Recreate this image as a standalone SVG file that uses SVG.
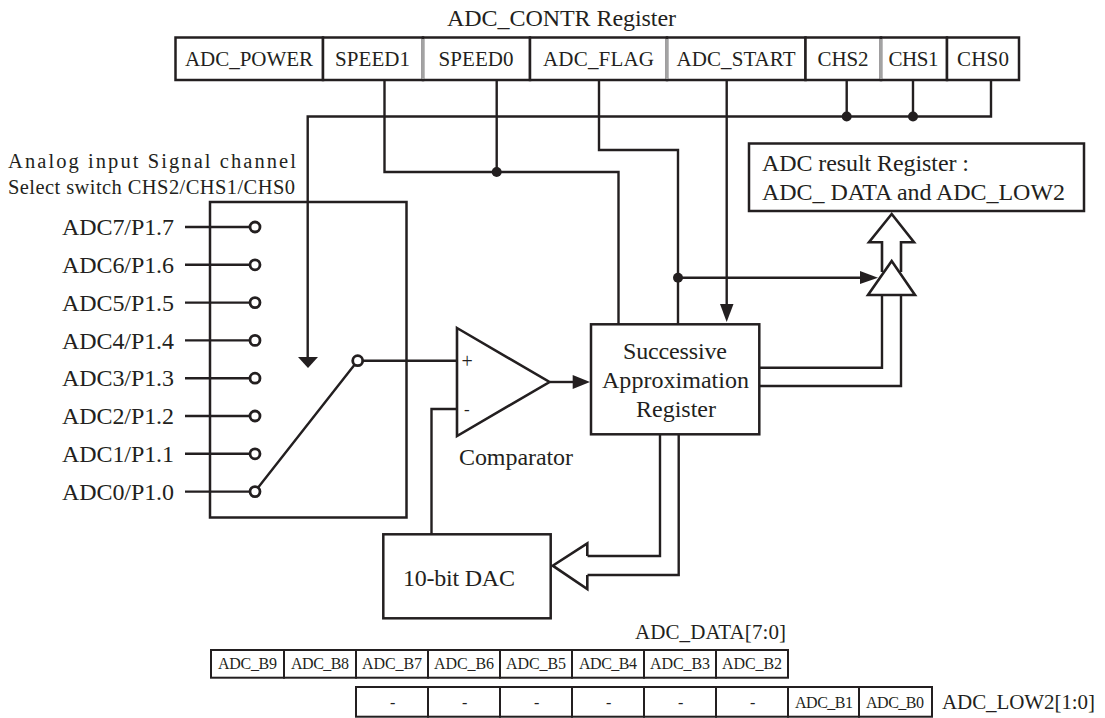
<svg xmlns="http://www.w3.org/2000/svg" width="1105" height="718" viewBox="0 0 1105 718">
<defs>
<style>
text{font-family:"Liberation Serif","Times New Roman",serif;fill:#231f20}
.t21{font-size:21px}.t24{font-size:24px}.t16{font-size:16px}.t20{font-size:20.500px}
.box{fill:#fff;stroke:#231f20;stroke-width:2.5}
.open{fill:none;stroke:#231f20;stroke-width:2.5}
.cell{fill:#fff;stroke:#231f20;stroke-width:2}
.w{fill:none;stroke:#231f20;stroke-width:2.4;stroke-linejoin:miter}
.grey{stroke:#a3a3a3;stroke-width:2.5}
.dot{fill:#231f20}
.head{fill:#231f20}
.pin{fill:#fff;stroke:#231f20;stroke-width:2.8}
.tri{fill:#fff;stroke:#231f20;stroke-width:2.6;stroke-linejoin:miter}
</style>
</defs>
<rect width="1105" height="718" fill="#fff"/>
<text x="447" y="26" class="t24" textLength="229">ADC_CONTR Register</text>

<g id="register-contr">
<g id="cell-adc-power"><rect class="box" x="175.500" y="37.500" width="147.500" height="42.500"/><text class="t21" x="185" y="66" textLength="128">ADC_POWER</text></g>
<g id="cell-speed1"><rect class="box" x="323" y="37.500" width="100" height="42.500"/><text class="t21" x="335" y="66" textLength="75">SPEED1</text></g>
<g id="cell-speed0"><rect class="box" x="423" y="37.500" width="107" height="42.500"/><line class="grey" x1="423" y1="39" x2="423" y2="79"/><text class="t21" x="438.500" y="66" textLength="75">SPEED0</text></g>
<g id="cell-adc-flag"><rect class="box" x="530" y="37.500" width="137" height="42.500"/><text class="t21" x="543" y="66" textLength="111">ADC_FLAG</text></g>
<g id="cell-adc-start"><rect class="box" x="667" y="37.500" width="138.500" height="42.500"/><line class="grey" x1="667" y1="39" x2="667" y2="79"/><text class="t21" x="676.500" y="66" textLength="119">ADC_START</text></g>
<g id="cell-chs2"><rect class="box" x="805.500" y="37.500" width="75.500" height="42.500"/><text class="t21" x="817.500" y="66" textLength="51">CHS2</text></g>
<g id="cell-chs1"><rect class="box" x="881" y="37.500" width="66" height="42.500"/><line class="grey" x1="881" y1="39" x2="881" y2="79"/><text class="t21" x="888.500" y="66" textLength="50">CHS1</text></g>
<g id="cell-chs0"><rect class="box" x="947" y="37.500" width="72" height="42.500"/><text class="t21" x="957" y="66" textLength="52">CHS0</text></g>
</g>

<g id="node-result">
<rect class="box" x="749" y="143.500" width="335" height="67.500"/>
<text class="t24" x="762" y="171" textLength="207">ADC result Register :</text>
<text class="t24" x="762" y="200" textLength="303">ADC_ DATA and ADC_LOW2</text>
</g>

<text class="t20" x="8" y="168" textLength="288">Analog input Signal channel</text>
<text class="t20" x="8" y="194" textLength="287">Select switch CHS2/CHS1/CHS0</text>

<g id="node-switch">
<rect class="open" x="210" y="202" width="196.500" height="315.500"/>
</g>

<g id="inputs">
<text class="t24" x="62" y="235" textLength="112">ADC7/P1.7</text>
<text class="t24" x="62" y="273" textLength="112">ADC6/P1.6</text>
<text class="t24" x="62" y="311" textLength="112">ADC5/P1.5</text>
<text class="t24" x="62" y="349" textLength="112">ADC4/P1.4</text>
<text class="t24" x="62" y="386" textLength="112">ADC3/P1.3</text>
<text class="t24" x="62" y="424" textLength="112">ADC2/P1.2</text>
<text class="t24" x="62" y="462" textLength="112">ADC1/P1.1</text>
<text class="t24" x="62" y="500" textLength="112">ADC0/P1.0</text>
</g>

<g id="connectors">
<path class="w" d="M384.500 80V172H618.500V324"/>
<path class="w" d="M496.700 80V172"/>
<path class="w" d="M599 80V150H678V324"/>
<path class="w" d="M726.700 80V306"/>
<path class="w" d="M991 80V116.500H307.700V358"/>
<path class="w" d="M846.700 80V116.500M913 80V116.500"/>
<path class="w" d="M678 277.700H862"/>
<path class="w" d="M185 227H250M185 264.800H250M185 302.600H250M185 340.400H250M185 378.200H250M185 416H250M185 453.800H250M185 491.600H250"/>
<path class="w" d="M255 491.600L357.700 360.700H457"/>
<path class="w" d="M457 409H431.500V534"/>
<path class="w" d="M550 382H574"/>
<path class="w" d="M660 434V556H587.300M678.700 434V575H587.300"/>
<path class="w" d="M759 367.700H882V295M759 386H901V295"/>
<polygon class="head" points="720,304 733.500,304 726.700,322"/>
<polygon class="head" points="298,357 318,357 308,368"/>
<polygon class="head" points="572.700,375 590,382 572.700,389"/>
<polygon class="head" points="860,271 878,277.700 860,284"/>
<circle class="dot" cx="496.700" cy="172" r="5"/>
<circle class="dot" cx="846.700" cy="116.500" r="5"/>
<circle class="dot" cx="913" cy="116.500" r="5"/>
<circle class="dot" cx="678" cy="277.700" r="5"/>
<polyline class="tri" points="587.300,556 587.300,543.300 552.700,565.700 587.300,589 587.300,575"/>
<polyline class="tri" points="882,272 882,242.300 869,242.300 891.700,214 914,242.300 901,242.300 901,272"/>
<polygon class="tri" points="891.700,261 868,295 915,295"/>
<circle class="pin" cx="255" cy="227" r="5"/>
<circle class="pin" cx="255" cy="264.800" r="5"/>
<circle class="pin" cx="255" cy="302.600" r="5"/>
<circle class="pin" cx="255" cy="340.400" r="5"/>
<circle class="pin" cx="255" cy="378.200" r="5"/>
<circle class="pin" cx="255" cy="416" r="5"/>
<circle class="pin" cx="255" cy="453.800" r="5"/>
<circle class="pin" cx="255" cy="491.600" r="5"/>
<circle class="pin" cx="357.700" cy="360.700" r="5"/>
</g>

<g id="node-comparator">
<polygon class="tri" style="fill:none" points="457,328 549.500,382 457,436"/>
<text x="461.500" y="367.500" font-size="20">+</text>
<text x="464" y="415" font-size="17">-</text>
<text class="t24" x="459" y="465" textLength="114">Comparator</text>
</g>

<g id="node-sar">
<rect class="box" x="591" y="324.300" width="168.300" height="110"/>
<text class="t24" x="623" y="359" textLength="104">Successive</text>
<text class="t24" x="602" y="388" textLength="147">Approximation</text>
<text class="t24" x="636" y="417" textLength="80">Register</text>
</g>

<g id="node-dac">
<rect class="box" x="383.300" y="534.300" width="167.400" height="84"/>
<text class="t24" x="403" y="586" textLength="112">10-bit DAC</text>
</g>

<text class="t21" x="635" y="639" textLength="151">ADC_DATA[7:0]</text>

<g id="register-data">
<g id="data-b9"><rect class="cell" x="211" y="650" width="73" height="27.700"/><text class="t16" x="218" y="669" textLength="59">ADC_B9</text></g>
<g id="data-b8"><rect class="cell" x="284" y="650" width="72" height="27.700"/><text class="t16" x="291" y="669" textLength="58">ADC_B8</text></g>
<g id="data-b7"><rect class="cell" x="356" y="650" width="72" height="27.700"/><text class="t16" x="362" y="669" textLength="60">ADC_B7</text></g>
<g id="data-b6"><rect class="cell" x="428" y="650" width="72" height="27.700"/><text class="t16" x="434" y="669" textLength="60">ADC_B6</text></g>
<g id="data-b5"><rect class="cell" x="500" y="650" width="72" height="27.700"/><text class="t16" x="506" y="669" textLength="60">ADC_B5</text></g>
<g id="data-b4"><rect class="cell" x="572" y="650" width="72" height="27.700"/><text class="t16" x="579" y="669" textLength="58">ADC_B4</text></g>
<g id="data-b3"><rect class="cell" x="644" y="650" width="72" height="27.700"/><text class="t16" x="650" y="669" textLength="60">ADC_B3</text></g>
<g id="data-b2"><rect class="cell" x="716" y="650" width="72" height="27.700"/><text class="t16" x="722" y="669" textLength="60">ADC_B2</text></g>
</g>

<g id="register-low2">
<g id="low-6"><rect class="cell" x="356" y="687" width="72" height="29.700"/><text class="t16" x="390" y="708">-</text></g>
<g id="low-5"><rect class="cell" x="428" y="687" width="72" height="29.700"/><text class="t16" x="462" y="708">-</text></g>
<g id="low-4"><rect class="cell" x="500" y="687" width="72" height="29.700"/><text class="t16" x="534" y="708">-</text></g>
<g id="low-3"><rect class="cell" x="572" y="687" width="72" height="29.700"/><text class="t16" x="606" y="708">-</text></g>
<g id="low-2"><rect class="cell" x="644" y="687" width="72" height="29.700"/><text class="t16" x="678" y="708">-</text></g>
<g id="low-1"><rect class="cell" x="716" y="687" width="72" height="29.700"/><text class="t16" x="750" y="708">-</text></g>
<g id="low-b1"><rect class="cell" x="788" y="687" width="71" height="29.700"/><text class="t16" x="795" y="708" textLength="58">ADC_B1</text></g>
<g id="low-b0"><rect class="cell" x="859" y="687" width="73" height="29.700"/><text class="t16" x="866" y="708" textLength="58">ADC_B0</text></g>
</g>
<text class="t21" x="942" y="709" textLength="153">ADC_LOW2[1:0]</text>
</svg>
